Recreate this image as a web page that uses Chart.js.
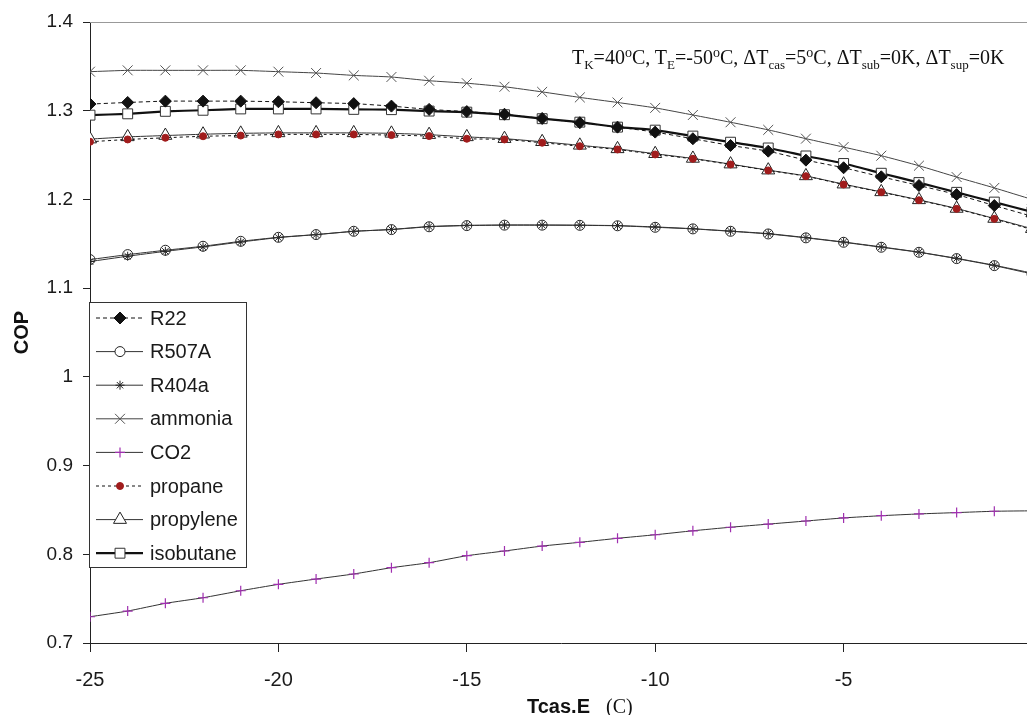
<!DOCTYPE html>
<html>
<head>
<meta charset="utf-8">
<script src="https://cdn.jsdelivr.net/npm/chart.js@4/dist/chart.umd.min.js"></script>
<style>
  html, body { margin: 0; padding: 0; background: #fff; overflow: hidden; }
  #wrap { position: relative; width: 1048px; height: 715px; }
  canvas { display: block; }
  .note { position: absolute; left: 572px; top: 47px; font-family: "Liberation Serif", "Times New Roman", serif;
          font-size: 20px; line-height: 20px; color: #111; white-space: nowrap; }
  .note .lo { position: relative; top: 5px; font-size: 13px; }
  .note .hi { position: relative; top: -7px; font-size: 14px; }
  .xt { position: absolute; left: 527px; top: 696px; font-size: 20px; line-height: 20px; color: #111; white-space: nowrap; }
  .xt b { font-family: "Liberation Sans", Arial, sans-serif; }
  .xt span { font-family: "Liberation Serif", "Times New Roman", serif; margin-left: 16px; }
</style>
</head>
<body>
<div id="wrap">
  <canvas id="chart" width="1048" height="715"></canvas>
  <div class="note">T<span class="lo">K</span>=40<span class="hi">o</span>C, T<span class="lo">E</span>=-50<span class="hi">o</span>C, &Delta;T<span class="lo">cas</span>=5<span class="hi">o</span>C, &Delta;T<span class="lo">sub</span>=0K, &Delta;T<span class="lo">sup</span>=0K</div>
  <div class="xt"><b>Tcas.E</b><span>(C)</span></div>
</div>
<script>
// evaporator temperature of the cascade (C)
const temps = [-25, -24, -23, -22, -21, -20, -19, -18, -17, -16, -15, -14, -13,
  -12, -11, -10, -9, -8, -7, -6, -5, -4, -3, -2, -1, 0];

const r22 = [1.3075, 1.3093, 1.3108, 1.3108, 1.3108, 1.3101, 1.309, 1.308, 1.3052, 1.3015, 1.299, 1.296, 1.2913,
  1.2865, 1.2815, 1.2759, 1.2684, 1.2608, 1.2544, 1.2443, 1.2357, 1.2255, 1.2157, 1.2055, 1.1931, 1.181];
const r507a = [1.1322, 1.1378, 1.1427, 1.1472, 1.1528, 1.1573, 1.1604, 1.1641, 1.166, 1.1692, 1.1705, 1.171, 1.171,
  1.1708, 1.1703, 1.1686, 1.1668, 1.1641, 1.1611, 1.1567, 1.1517, 1.1461, 1.1404, 1.1333, 1.1254, 1.116];
const r404a = [1.130, 1.136, 1.1415, 1.1465, 1.152, 1.157, 1.1603, 1.164, 1.1662, 1.1695, 1.1708, 1.1712, 1.1712,
  1.171, 1.1705, 1.169, 1.167, 1.1643, 1.1615, 1.157, 1.152, 1.1465, 1.1406, 1.1336, 1.1258, 1.117];
const ammonia = [1.344, 1.3455, 1.3455, 1.3455, 1.3455, 1.344, 1.3425, 1.3398, 1.338, 1.3338, 1.331, 1.327, 1.3212,
  1.315, 1.3093, 1.3032, 1.2952, 1.287, 1.2784, 1.2685, 1.259, 1.2493, 1.238, 1.2252, 1.213, 1.200];
const co2 = [0.7296, 0.736, 0.7447, 0.751, 0.7589, 0.7661, 0.7721, 0.7778, 0.7849, 0.7905, 0.7984, 0.8037, 0.8093,
  0.8135, 0.818, 0.822, 0.8265, 0.8305, 0.834, 0.8375, 0.841, 0.8435, 0.8455, 0.847, 0.8485, 0.849];
const propane = [1.265, 1.2676, 1.2695, 1.2712, 1.272, 1.2733, 1.2733, 1.2733, 1.2725, 1.2714, 1.2684, 1.2676, 1.2639,
  1.26, 1.2563, 1.2507, 1.2458, 1.2394, 1.2327, 1.2262, 1.2168, 1.2082, 1.1991, 1.1894, 1.1781, 1.166];
const propylene = [1.268, 1.2705, 1.272, 1.2735, 1.2745, 1.275, 1.275, 1.275, 1.2745, 1.273, 1.2705, 1.2685, 1.265,
  1.261, 1.257, 1.2515, 1.2462, 1.2398, 1.233, 1.2265, 1.2172, 1.2085, 1.1995, 1.1898, 1.1785, 1.167];
const isobutane = [1.295, 1.2965, 1.2993, 1.3005, 1.302, 1.302, 1.302, 1.3015, 1.3012, 1.2996, 1.2984, 1.2955, 1.291,
  1.2871, 1.2815, 1.2781, 1.2714, 1.2645, 1.258, 1.249, 1.2405, 1.2295, 1.219, 1.208, 1.197, 1.186];

const yTicks = [0.7, 0.8, 0.9, 1, 1.1, 1.2, 1.3, 1.4];

const pts = arr => temps.map((t, i) => ({ x: t, y: arr[i] }));

function series(label, data, o) {
  return Object.assign({
    label: label,
    data: pts(data),
    borderColor: '#333',
    borderWidth: 1,
    pointBorderColor: '#222',
    pointBackgroundColor: '#fff',
    pointBorderWidth: 1,
    pointRadius: 5,
    pointStyle: 'circle',
    tension: 0.15
  }, o);
}

const datasets = [
  series('R22', r22, { borderColor: '#111', borderDash: [4, 3], pointStyle: 'rectRot', pointRadius: 6, pointBackgroundColor: '#111', pointBorderColor: '#111' }),
  series('R507A', r507a, { pointStyle: 'circle', pointRadius: 5, pointBackgroundColor: 'rgba(255,255,255,0)' }),
  series('R404a', r404a, { pointStyle: 'star', pointRadius: 4.5 }),
  series('ammonia', ammonia, { borderColor: '#444', pointStyle: 'crossRot', pointRadius: 7, pointBorderColor: '#555' }),
  series('CO2', co2, { borderColor: '#333', pointStyle: 'cross', pointRadius: 5, pointBorderColor: '#a030b0', pointBorderWidth: 1.2 }),
  series('propane', propane, { borderColor: '#111', borderDash: [3, 3], pointStyle: 'circle', pointRadius: 3.5, pointBackgroundColor: '#a01c1c', pointBorderColor: '#a01c1c' }),
  series('propylene', propylene, { pointStyle: 'triangle', pointRadius: 7.5 }),
  series('isobutane', isobutane, { borderColor: '#111', borderWidth: 2.2, pointStyle: 'rect', pointRadius: 7, pointBorderColor: '#333' })
];

const font = { family: '"Liberation Sans", Arial, sans-serif', size: 19 };

// legend box inside the plot + grey top frame line
const boxLegend = {
  id: 'boxLegend',
  afterDraw(chart) {
    const ctx = chart.ctx;
    const a = chart.chartArea;
    ctx.save();
    ctx.strokeStyle = '#999';
    ctx.lineWidth = 1;
    ctx.beginPath();
    ctx.moveTo(a.left, a.top + 0.5);
    ctx.lineTo(a.right, a.top + 0.5);
    ctx.stroke();

    const x0 = 89.5, y0 = 302.5, w = 157, h = 265, step = 33.6;
    ctx.fillStyle = '#fff';
    ctx.fillRect(x0, y0, w, h);
    ctx.strokeStyle = '#333';
    ctx.strokeRect(x0, y0, w, h);
    ctx.font = '20px "Liberation Sans", Arial, sans-serif';
    ctx.textBaseline = 'middle';
    chart.data.datasets.forEach((ds, i) => {
      const y = 318 + i * step;
      ctx.strokeStyle = ds.borderColor;
      ctx.lineWidth = ds.borderWidth;
      ctx.setLineDash(ds.borderDash || []);
      ctx.beginPath();
      ctx.moveTo(96, y);
      ctx.lineTo(143, y);
      ctx.stroke();
      ctx.setLineDash([]);
      ctx.fillStyle = ds.pointBackgroundColor === 'rgba(255,255,255,0)' ? '#fff' : ds.pointBackgroundColor;
      ctx.strokeStyle = ds.pointBorderColor;
      ctx.lineWidth = ds.pointBorderWidth;
      Chart.helpers.drawPoint(ctx, { pointStyle: ds.pointStyle, radius: ds.pointRadius, rotation: 0, borderWidth: ds.pointBorderWidth }, 120, y);
      ctx.fillStyle = '#1a1a1a';
      ctx.fillText(ds.label, 150, y + 1);
    });
    ctx.restore();
  }
};

new Chart(document.getElementById('chart'), {
  type: 'line',
  data: { datasets: datasets },
  plugins: [boxLegend],
  options: {
    responsive: false,
    animation: false,
    layout: { padding: { left: 0, top: 22, right: 7, bottom: 0 } },
    plugins: { legend: { display: false }, tooltip: { enabled: false } },
    scales: {
      x: {
        type: 'linear',
        min: -25,
        max: 0,
        afterFit: s => { s.height = 72; },
        border: { display: true, color: '#222', width: 1 },
        grid: { drawOnChartArea: false, drawTicks: true, tickLength: 9, color: '#222' },
        ticks: {
          stepSize: 5,
          padding: 16,
          color: '#1a1a1a',
          font: { family: font.family, size: 20 },
          maxRotation: 0,
          callback: v => (v === 0 ? '' : String(v))
        }
      },
      y: {
        min: 0.7,
        max: 1.4,
        afterFit: s => { s.width = 90; },
        afterBuildTicks: s => { s.ticks = yTicks.map(v => ({ value: v })); },
        border: { display: true, color: '#222', width: 1 },
        grid: { drawOnChartArea: false, drawTicks: true, tickLength: 7, color: '#222' },
        ticks: {
          padding: 10,
          color: '#1a1a1a',
          font: font,
          callback: v => String(+v.toFixed(1))
        },
        title: {
          display: true,
          text: 'COP',
          color: '#111',
          padding: { top: 10, bottom: 0 },
          font: { family: font.family, size: 20, weight: 'bold' }
        }
      }
    }
  }
});
</script>
</body>
</html>
